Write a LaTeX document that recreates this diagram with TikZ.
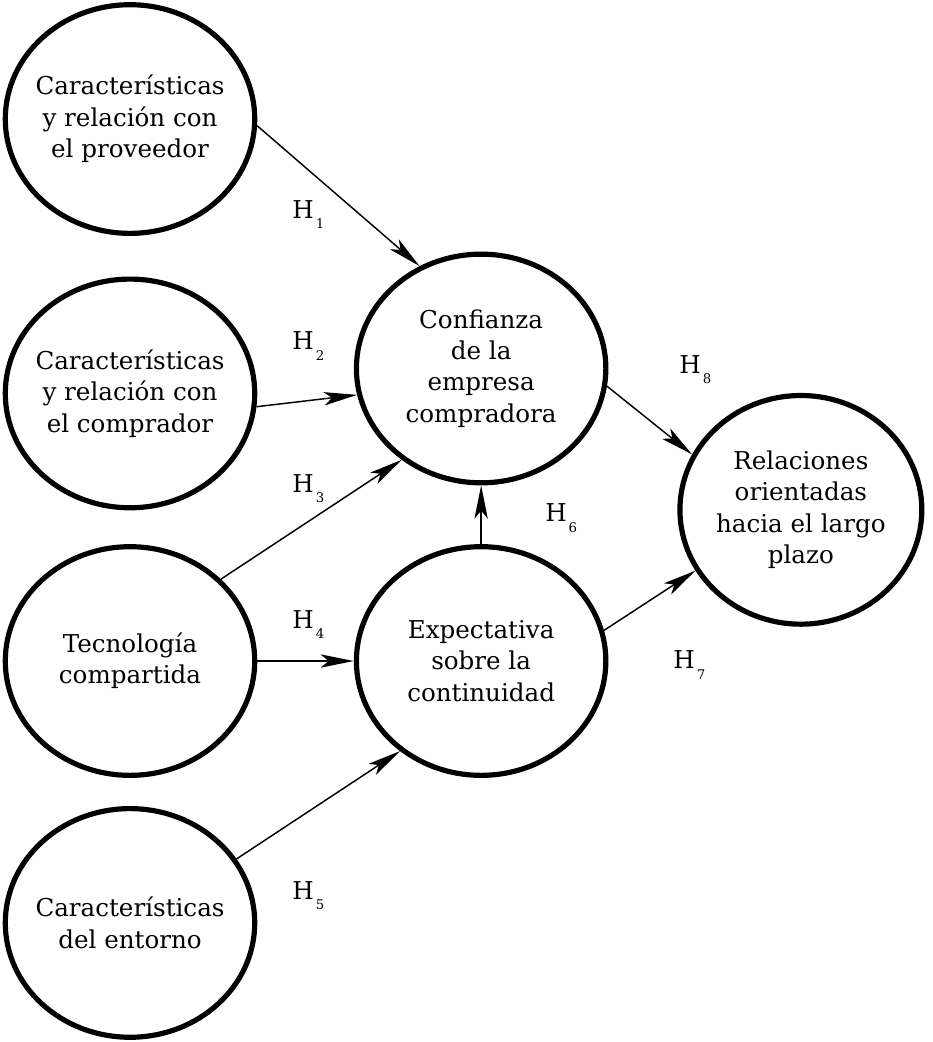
\documentclass[tikz,border=0pt]{standalone}
\usepackage{fontspec}
\setmainfont{DejaVu Serif}
\usetikzlibrary{shapes.geometric, arrows.meta}

\newcommand{\hypTag}[1]{H\kern1.5pt\raisebox{-8pt}{\fontsize{10}{11}\selectfont #1}}

\begin{document}
\begin{tikzpicture}[hypLatent/.style={draw, ellipse, line width=3.9pt, minimum width=6.6cm, minimum height=6.05cm, inner xsep=-10pt, inner ysep=0pt, align=center, font=\fontsize{18.5}{23.6}\selectfont},
    hypLabel/.style={anchor=base west, inner sep=0pt, font=\fontsize{18.5}{23.6}\selectfont},
    hypArrow/.style={-{Stealth[length=25pt, width=10pt, inset=6pt]}, line width=1.1pt}]
    \useasboundingbox (0, 0) rectangle (24.66, 27.57);

    % Antecedents
    \node[hypLatent] (latProv) at (3.44, 24.42) {Características\\y relación con\\el proveedor};
    \node[hypLatent] (latComp) at (3.44, 17.16) {Características\\y relación con\\el comprador};
    \node[hypLatent] (latTec) at (3.44, 10.08) {Tecnología\\compartida};
    \node[hypLatent] (latEnt) at (3.44, 3.15) {Características\\del entorno};

    % Mediators and outcome
    \node[hypLatent] (latConf) at (12.73, 17.82) {Confianza\\de la\\empresa\\compradora};
    \node[hypLatent] (latExp) at (12.73, 10.08) {Expectativa\\sobre la\\continuidad};
    \node[hypLatent, minimum width=6.4cm] (latRel) at (21.19, 14.08) {Relaciones\\orientadas\\hacia el largo\\plazo};

    % Hypotheses
    \node[hypLabel] (hypH1) at (7.73, 21.80) {\hypTag{1}};
    \node[hypLabel] (hypH2) at (7.73, 18.31) {\hypTag{2}};
    \node[hypLabel] (hypH3) at (7.73, 14.55) {\hypTag{3}};
    \node[hypLabel] (hypH4) at (7.73, 10.95) {\hypTag{4}};
    \node[hypLabel] (hypH5) at (7.73, 3.78) {\hypTag{5}};
    \node[hypLabel] (hypH6) at (14.42, 13.76) {\hypTag{6}};
    \node[hypLabel] (hypH7) at (17.81, 9.87) {\hypTag{7}};
    \node[hypLabel] (hypH8) at (17.97, 17.70) {\hypTag{8}};

    \draw[hypArrow] (latProv.-3) -- (latConf.121);
    \draw[hypArrow] (latComp.-6.5) -- (latConf.192);
    \draw[hypArrow] (latTec.42) -- (latConf.229);
    \draw[hypArrow] (latTec.east) -- (latExp.west);
    \draw[hypArrow] (latEnt.31) -- (latExp.228);
    \draw[hypArrow] (latExp.north) -- (latConf.south);
    \draw[hypArrow] (latExp.14) -- (latRel.210);
    \draw[hypArrow] (latConf.-8) -- (latRel.153);
\end{tikzpicture}
\end{document}
